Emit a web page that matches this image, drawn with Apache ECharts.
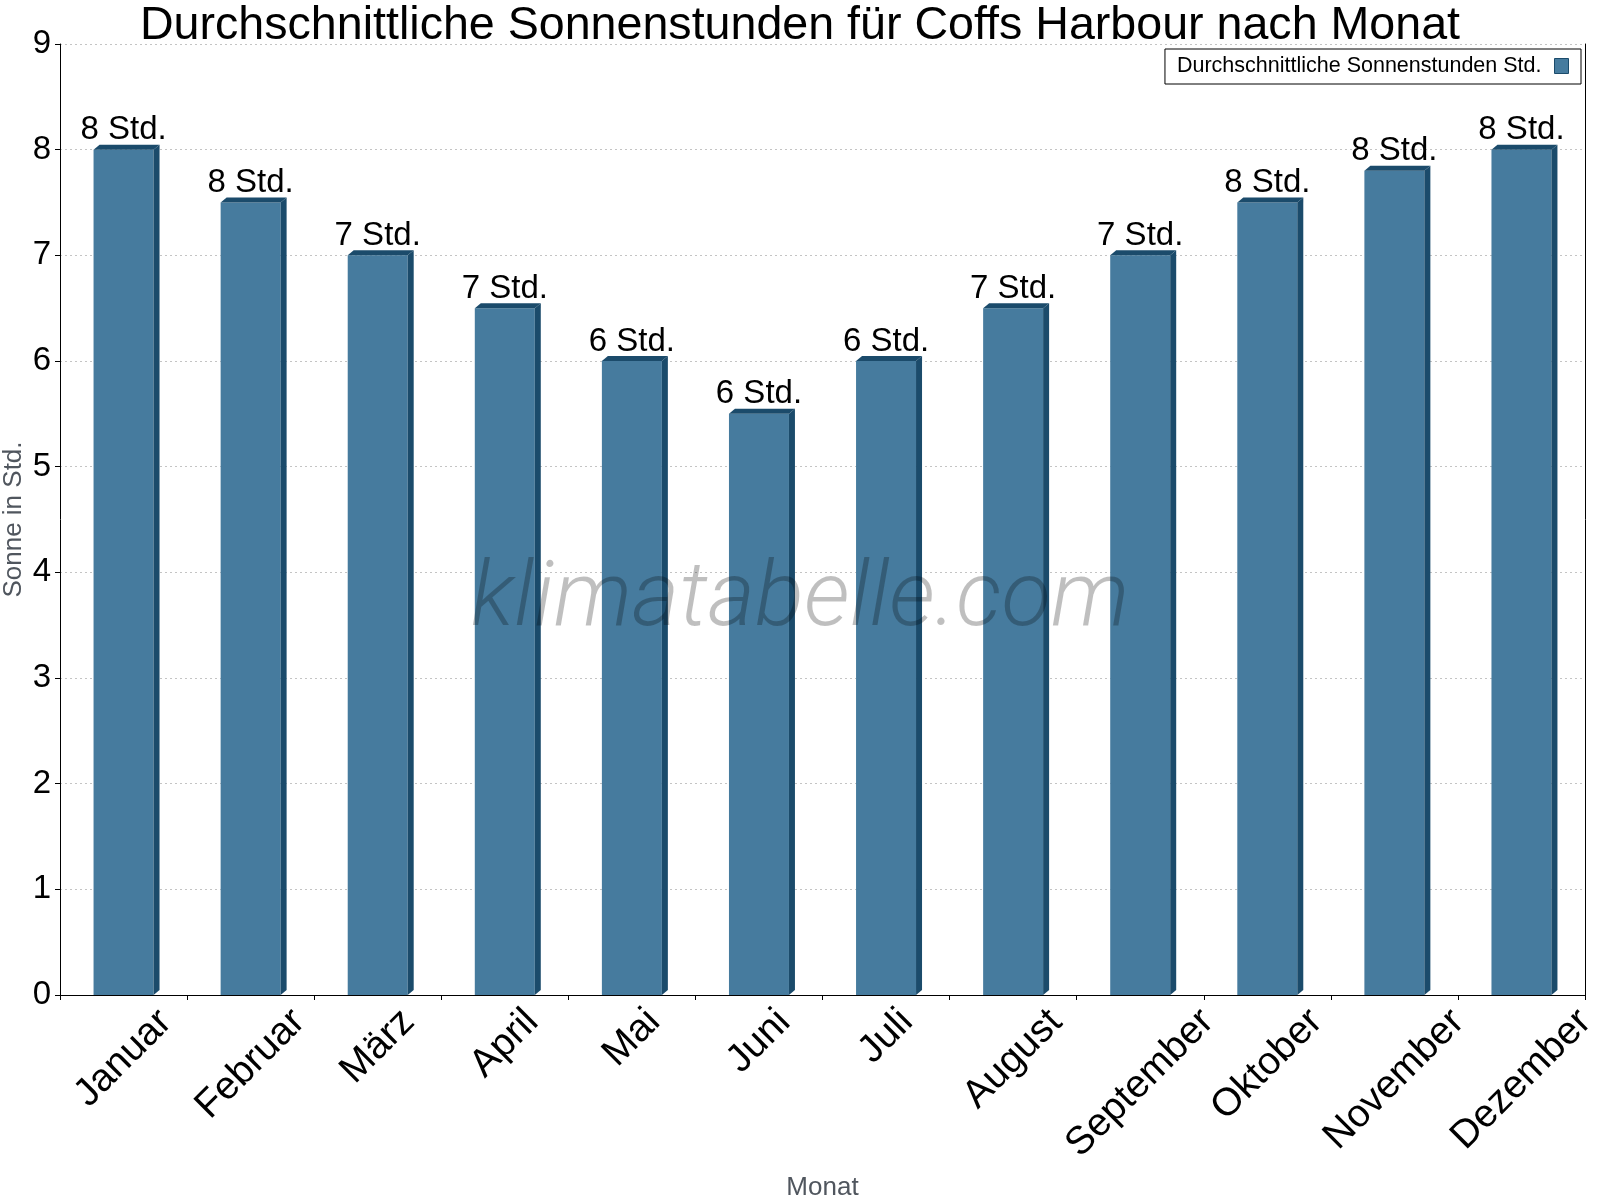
<!DOCTYPE html>
<html>
<head>
<meta charset="utf-8">
<script src="https://cdn.jsdelivr.net/npm/echarts@6/dist/echarts.min.js"></script>
<style>
	html, body { margin: 0; padding: 0; background: #fff; }
	#main { width: 1600px; height: 1200px; }
</style>
</head>
<body>
<div id="main"></div>
<script>
	// chart values
	var months = ['Januar', 'Februar', 'März', 'April', 'Mai', 'Juni', 'Juli', 'August', 'September', 'Oktober', 'November', 'Dezember'];
	var sunHours = [8, 7.5, 7, 6.5, 6, 5.5, 6, 6.5, 7, 7.5, 7.8, 8];
	var hourLabels = ['8 Std.', '8 Std.', '7 Std.', '7 Std.', '6 Std.', '6 Std.', '6 Std.', '7 Std.', '7 Std.', '8 Std.', '8 Std.', '8 Std.'];
	var seriesName = 'Durchschnittliche Sonnenstunden Std.';

	var FONT = '"Liberation Sans", Arial, sans-serif';
	var FRONT = '#467b9e';
	var DARK = '#1b4b6b';
	var X_FONT = 39;

	// rotated month labels: pad each one so its box hangs centred below the tick
	var measure = document.createElement('canvas').getContext('2d');
	measure.font = X_FONT + 'px "Liberation Sans"';
	var monthRich = {};
	for (var i = 0; i < months.length; i++) {
		var half = Math.round(measure.measureText(months[i]).width / 2);
		monthRich['m' + i] = {
			fontSize: X_FONT,
			fontFamily: FONT,
			color: '#000',
			padding: [half, half, 0, 0]
		};
	}

	function renderBar(params, api) {
		var idx = api.value(0);
		var top = api.coord([idx, api.value(1)]);
		var base = api.coord([idx, 0]);
		var band = api.size([1, 0])[0];
		var w = band * 0.472;
		var dx = 6, dy = 5;
		var x0 = top[0] - w / 2, x1 = top[0] + w / 2;
		return {
			type: 'group',
			children: [
				{
					type: 'rect',
					shape: { x: x0, y: top[1], width: w, height: base[1] - top[1] },
					style: { fill: FRONT }
				},
				{
					type: 'polygon',
					shape: { points: [[x1, top[1]], [x1 + dx, top[1] - dy], [x1 + dx, base[1] - dy], [x1, base[1]]] },
					style: { fill: DARK }
				},
				{
					type: 'polygon',
					shape: { points: [[x0, top[1]], [x0 + dx, top[1] - dy], [x1 + dx, top[1] - dy], [x1, top[1]]] },
					style: { fill: DARK }
				},
				{
					type: 'text',
					x: top[0],
					y: top[1] - dy + 2,
					style: {
						text: hourLabels[idx],
						fontSize: 33,
						fontFamily: FONT,
						fill: '#000',
						align: 'center',
						verticalAlign: 'bottom'
					}
				}
			]
		};
	}

	var barData = [];
	for (var j = 0; j < sunHours.length; j++) {
		barData.push([j, sunHours[j]]);
	}

	var chart = echarts.init(document.getElementById('main'), null, { renderer: 'canvas' });
	var option = {
		backgroundColor: '#fff',
		animation: false,
		title: {
			text: 'Durchschnittliche Sonnenstunden für Coffs Harbour nach Monat',
			left: 'center',
			top: -2,
			textStyle: { fontFamily: FONT, fontSize: 46.6, fontWeight: 'normal', color: '#000' }
		},
		legend: {
			data: [{ name: seriesName, icon: 'rect' }],
			right: 19,
			top: 49,
			align: 'right',
			padding: [6, 12, 7, 12],
			borderColor: '#000',
			borderWidth: 1,
			backgroundColor: '#fff',
			itemWidth: 14,
			itemHeight: 15,
			itemStyle: { borderColor: DARK, borderWidth: 1 },
			textStyle: { fontFamily: FONT, fontSize: 21.5, color: '#000', padding: [0, 8, 0, 0] }
		},
		grid: {
			left: 60,
			right: 15,
			top: 44,
			bottom: 205,
			outerBoundsMode: 'none'
		},
		graphic: [
			{
				type: 'text',
				x: 800,
				y: 602,
				z: 100,
				silent: true,
				style: {
					text: 'klimatabelle.com',
					fontFamily: 'Roboto',
					fontStyle: 'italic',
					fontWeight: 300,
					fontSize: 91,
					fill: 'rgba(0,0,0,0.25)',
					align: 'center',
					verticalAlign: 'middle',
					textAlign: 'center',
					textVerticalAlign: 'middle'
				}
			}
		],
		xAxis: {
			type: 'category',
			data: months,
			name: 'Monat',
			nameLocation: 'middle',
			nameGap: 180,
			nameTextStyle: { fontFamily: FONT, fontSize: 26, color: '#50565e' },
			axisLine: { lineStyle: { color: '#000', width: 1 } },
			axisTick: { show: true, length: 5, lineStyle: { color: '#000' } },
			axisLabel: {
				interval: 0,
				rotate: 45,
				align: 'center',
				verticalAlign: 'middle',
				margin: 21,
				formatter: function(value, index) {
					return '{m' + index + '|' + value + '}';
				},
				rich: monthRich
			},
			splitLine: { show: false }
		},
		yAxis: [
			{
				type: 'value',
				min: 0,
				max: 9,
				interval: 1,
				name: 'Sonne in Std.',
				nameLocation: 'middle',
				nameGap: 33,
				nameMoveOverlap: false,
				nameTextStyle: { fontFamily: FONT, fontSize: 26, color: '#50565e' },
				axisLine: { show: true, lineStyle: { color: '#000', width: 1 } },
				axisTick: { show: true, length: 5, lineStyle: { color: '#000' } },
				axisLabel: { fontFamily: FONT, fontSize: 33, color: '#000', margin: 9 },
				splitLine: { show: true, lineStyle: { color: '#c4c4c4', type: [2, 3], width: 1 } }
			},
			{
				type: 'value',
				min: 0,
				max: 9,
				interval: 1,
				position: 'right',
				axisLine: { show: true, lineStyle: { color: '#000', width: 1 } },
				axisTick: { show: false },
				axisLabel: { show: false },
				splitLine: { show: false }
			}
		],
		series: [
			{
				name: seriesName,
				type: 'custom',
				renderItem: renderBar,
				itemStyle: { color: FRONT },
				encode: { x: 0, y: 1 },
				data: barData
			}
		]
	};
	chart.setOption(option);
</script>
</body>
</html>
